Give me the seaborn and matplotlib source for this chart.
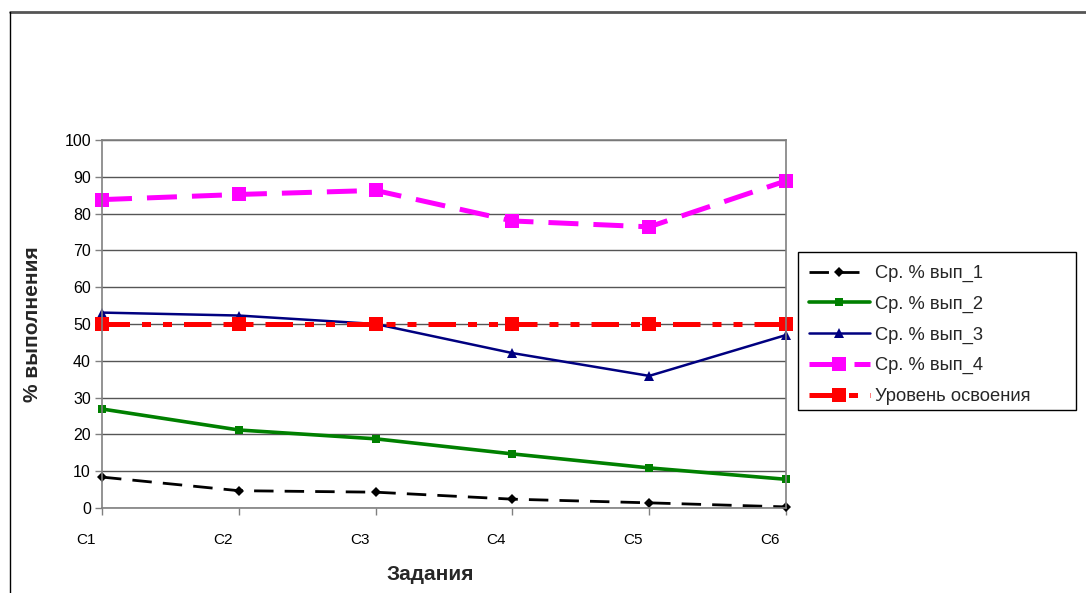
import matplotlib
matplotlib.use("Agg")
import matplotlib.pyplot as plt
import matplotlib.transforms as mtransforms
from matplotlib.lines import Line2D
from matplotlib.patches import Rectangle
import seaborn as sns
import pandas as pd

# Task labels and average completion percentages
tasks = ["С1", "С2", "С3", "С4", "С5", "С6"]
avg_1 = [8.4, 4.7, 4.3, 2.4, 1.4, 0.3]
avg_2 = [26.9, 21.2, 18.8, 14.7, 10.9, 7.8]
avg_3 = [53.1, 52.3, 50.0, 42.1, 35.9, 47.0]
avg_4 = [83.8, 85.2, 86.3, 78.0, 76.4, 88.9]
mastery = [50, 50, 50, 50, 50, 50]

series_names = ["Ср. % вып_1", "Ср. % вып_2", "Ср. % вып_3", "Ср. % вып_4", "Уровень освоения"]
series_values = [avg_1, avg_2, avg_3, avg_4, mastery]

y_ticks = list(range(0, 101, 10))

sns.set_style("white")
plt.rcParams["font.family"] = ["Liberation Sans", "DejaVu Sans"]

W, H = 1086, 593
fig = plt.figure(figsize=(W / 100, H / 100), dpi=100)
ax = fig.add_axes([102 / W, 85 / H, 684 / W, 368 / H])

styles = [
    dict(color="black", lw=2.0, marker="D", ms=5, dashes=(7, 4)),
    dict(color="#008000", lw=2.6, marker="s", ms=6, dashes=None),
    dict(color="#000080", lw=1.8, marker="^", ms=7, dashes=None),
    dict(color="#FF00FF", lw=3.6, marker="s", ms=10, dashes=(6, 3)),
    dict(color="#FF0000", lw=3.6, marker="s", ms=10, dashes=(5.5, 2.4, 1.8, 2.4, 1.8, 2.4)),
]

x_pos = list(range(len(tasks)))
handles = []
for name, vals, st in zip(series_names, series_values, styles):
    df = pd.DataFrame({"x": x_pos, "y": vals})
    sns.lineplot(data=df, x="x", y="y", ax=ax, color=st["color"], linewidth=st["lw"],
                 marker=st["marker"], markersize=st["ms"], markeredgewidth=0,
                 legend=False)
    line = ax.lines[-1]
    line.set_clip_on(False)
    if st["dashes"] is not None:
        line.set_dashes(st["dashes"])
    h = Line2D([], [], color=st["color"], lw=st["lw"], marker=st["marker"],
               markersize=st["ms"], markeredgewidth=0)
    if st["dashes"] is not None:
        h.set_dashes(st["dashes"])
    handles.append(h)

ax.set_xlim(0, len(tasks) - 1)
ax.set_ylim(0, 100)
ax.set_yticks(y_ticks)
ax.set_xticks(x_pos)
ax.set_xticklabels(tasks)
ax.grid(axis="y", color="#555555", lw=1.0)
ax.grid(axis="x", visible=False)
ax.set_axisbelow(True)

for s in ax.spines.values():
    s.set_color("#808080")
    s.set_linewidth(1.2)

ax.tick_params(axis="both", which="major", labelsize=11.5, colors="black",
               length=5, width=1, direction="out", left=True, bottom=True)
ax.tick_params(axis="both", color="#808080")
ax.tick_params(axis="x", pad=13, labelsize=11)
ax.tick_params(axis="y", pad=3)

# Category labels sit left of their ticks
offset = mtransforms.ScaledTranslation(-16 / 100, 0, fig.dpi_scale_trans)
for lbl in ax.get_xticklabels():
    lbl.set_transform(lbl.get_transform() + offset)

ax.set_xlabel("Задания", fontsize=15, fontweight="bold")
ax.xaxis.set_label_coords((430 - 102) / 684, -(565 - 508) / 368)
ax.set_ylabel("% выполнения", fontsize=15, fontweight="bold", labelpad=16)

leg = fig.legend(handles, series_names, loc="upper left",
                 bbox_to_anchor=(798 / W, (H - 254) / H),
                 frameon=False, fontsize=13.2,
                 handlelength=3.3, handletextpad=0.3, labelspacing=0.74,
                 borderpad=0.6, borderaxespad=0)

# Legend box
fig.add_artist(Rectangle((798 / W, (H - 410) / H), (1076 - 798) / W, (410 - 252) / H,
                         transform=fig.transFigure, fill=False,
                         edgecolor="black", lw=1.0, zorder=5))

# Chart-area border along the top and left
fig.add_artist(Line2D([10 / W, 1.0], [1 - 12 / H, 1 - 12 / H],
                      transform=fig.transFigure, color="#555555", lw=2.0))
fig.add_artist(Line2D([10 / W, 10 / W], [0, 1 - 12 / H],
                      transform=fig.transFigure, color="black", lw=1.0))

fig.savefig("out.png", dpi=100)
